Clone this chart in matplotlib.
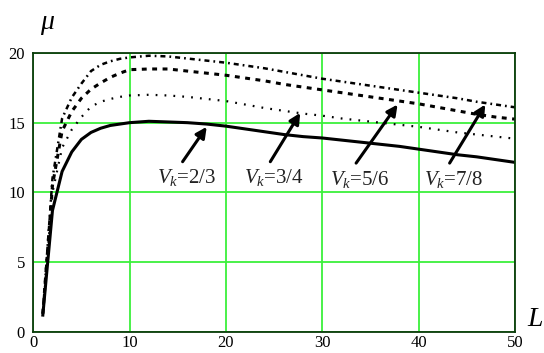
import matplotlib
matplotlib.use('Agg')
import matplotlib.pyplot as plt

plt.rcParams['font.family'] = ['Liberation Serif', 'DejaVu Serif']
plt.rcParams['mathtext.fontset'] = 'custom'
plt.rcParams['mathtext.rm'] = 'Liberation Serif'
plt.rcParams['mathtext.it'] = 'Liberation Serif:italic'

# Data
L = [1, 2, 3, 4, 5, 6, 7, 8, 9, 10, 12, 14, 16, 18, 20, 22, 24, 26, 28, 30,
     32, 34, 36, 38, 40, 42, 44, 46, 48, 50]
mu_23 = [1.2, 8.7, 11.5, 12.9, 13.8, 14.3, 14.6, 14.8, 14.9, 15.0, 15.1, 15.05,
         15.0, 14.9, 14.75, 14.55, 14.35, 14.15, 14.0, 13.9, 13.75, 13.6, 13.45,
         13.3, 13.1, 12.9, 12.7, 12.55, 12.35, 12.15]
mu_34 = [1.3, 10.0, 13.2, 14.5, 15.4, 16.15, 16.5, 16.7, 16.85, 16.95, 17.0, 16.95,
         16.85, 16.7, 16.55, 16.3, 16.05, 15.85, 15.65, 15.5, 15.3, 15.15, 15.0,
         14.85, 14.7, 14.5, 14.3, 14.15, 14.0, 13.85]
mu_56 = [1.3, 10.5, 14.4, 15.8, 16.75, 17.4, 17.85, 18.25, 18.55, 18.8, 18.85, 18.85,
         18.7, 18.55, 18.4, 18.2, 18.0, 17.75, 17.55, 17.35, 17.15, 16.95, 16.75,
         16.55, 16.35, 16.1, 15.85, 15.6, 15.4, 15.25]
mu_78 = [1.3, 11.0, 15.3, 16.8, 17.8, 18.7, 19.15, 19.4, 19.58, 19.68, 19.8, 19.75,
         19.6, 19.45, 19.3, 19.1, 18.9, 18.65, 18.4, 18.15, 17.95, 17.75, 17.55,
         17.35, 17.15, 16.95, 16.75, 16.5, 16.3, 16.1]

labels = ['2/3', '3/4', '5/6', '7/8']
# arrow tail / head (data coords)
arrow_tail = [(15.5, 12.2), (24.6, 12.2), (33.5, 12.1), (43.2, 12.1)]
arrow_head = [(18.0, 14.7), (27.7, 15.7), (37.8, 16.3), (46.9, 16.3)]

fig = plt.figure(figsize=(5.44, 3.53), dpi=100)
ax = fig.add_axes([0.061, 0.06, 0.886, 0.79])

grid_col = '#3cf03c'
ax.plot(L, mu_23, color='black', lw=2.2, linestyle='-')
ax.plot(L, mu_34, color='black', lw=1.6, linestyle=(0, (0.8, 3.2)))
ax.plot(L, mu_56, color='black', lw=2.2, linestyle=(0, (1.6, 1.8)))
ax.plot(L, mu_78, color='black', lw=1.8, linestyle=(0, (2.0, 1.6, 0.7, 1.6)))

for lab, t, h in zip(labels, arrow_tail, arrow_head):
    ax.annotate('', xy=h, xytext=t,
                arrowprops=dict(arrowstyle='-|>', color='black', lw=2.2,
                                mutation_scale=16, shrinkA=0, shrinkB=0))
    ax.text(t[0] + 0.4, t[1] - 0.4, r'$V_k$=' + lab, ha='center', va='top',
            fontsize=15, color='#222222')

ax.set_xlim(0, 50)
ax.set_ylim(0, 20)
ax.set_xticks([0, 10, 20, 30, 40, 50])
ax.set_yticks([0, 5, 10, 15, 20])
ax.grid(True, color=grid_col, lw=1.3)
ax.tick_params(axis='y', length=0, labelsize=12, pad=6)
ax.tick_params(axis='x', length=0, labelsize=12, pad=2)
for s in ax.spines.values():
    s.set_color('#0b3a0b')
    s.set_linewidth(1.3)

fig.text(0.087, 0.93, r'$\mu$', fontsize=20, ha='center', va='center')
fig.text(0.983, 0.095, 'L', fontsize=20, style='italic', ha='center', va='center')

fig.savefig('out.png', dpi=100)
